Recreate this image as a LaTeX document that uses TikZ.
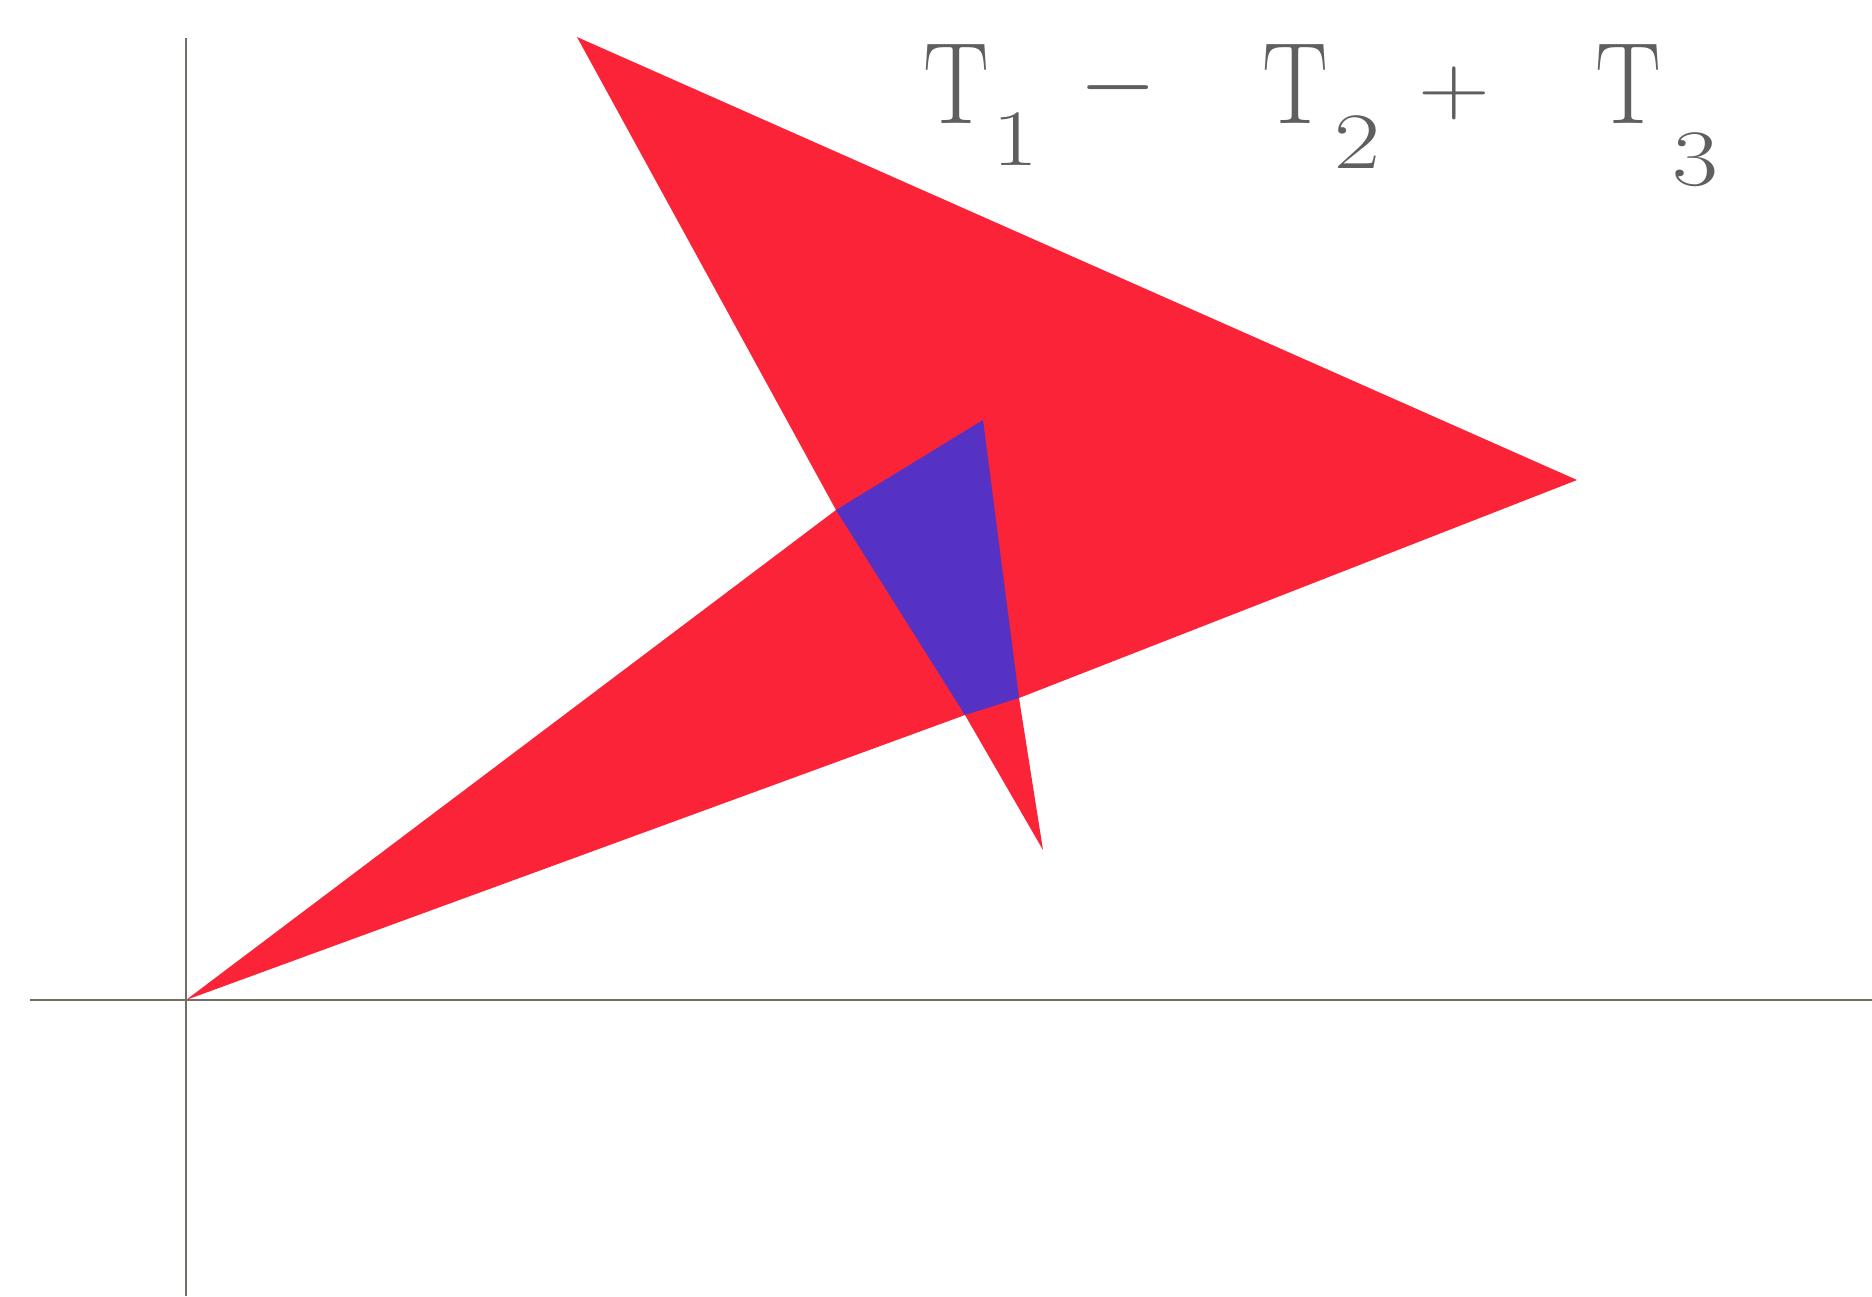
\documentclass[tikz,border=0pt]{standalone}
\usepackage{amsmath,amssymb}
\usepackage{graphicx}
\usepackage{xcolor}
\usetikzlibrary{calc}

\definecolor{trired}{RGB}{250,35,55}
\definecolor{triblue}{RGB}{85,50,195}
\definecolor{axisgray}{RGB}{115,110,100}
\definecolor{labelgray}{RGB}{95,95,95}

\newcommand{\slimT}{\scalebox{0.85}[1]{T}}
\newcommand{\wideD}[1]{\scalebox{1.25}[1]{#1}}

\begin{document}
\begin{tikzpicture}[x=0.25pt,y=-0.25pt,
		big/.style={anchor=base west,inner sep=0pt,text=labelgray,font=\fontsize{29}{29}\selectfont},
		sub/.style={anchor=base west,inner sep=0pt,text=labelgray,font=\fontsize{20}{20}\selectfont},
		op/.style={inner sep=0pt,text=labelgray,font=\fontsize{28}{28}\selectfont}]
		
		\useasboundingbox (0,0) rectangle (1872,1296);
		
		% Corners of the signed sum
		\coordinate (O) at (186,1000);
		\coordinate (A) at (577,37);
		\coordinate (B) at (1577,480);
		\coordinate (C) at (1043,850);
		\coordinate (D) at (983,420);
		\coordinate (P1) at (836,510);
		\coordinate (P2) at (965,715);
		\coordinate (P3) at (1019,698);
		
		% Multiplicity one
		\fill[trired] (A) -- (B) -- (P3) -- (C) -- (P2) -- (O) -- (P1) -- cycle;
		% Multiplicity two
		\fill[triblue] (P1) -- (D) -- (P3) -- (P2) -- cycle;
		
		% Axes
		\draw[axisgray,line width=0.5pt] (30,1000) -- (1872,1000);
		\draw[axisgray,line width=0.5pt] (186,38) -- (186,1296);
		
		\node[big] (t1) at (923,123) {\slimT};
		\node[sub] (n1) at (992,165) {\wideD{1}};
		\node[op] (mi) at (1118,88) {$-$};
		\node[big] (t2) at (1262,123) {\slimT};
		\node[sub] (n2) at (1334,168) {\wideD{2}};
		\node[op] (pl) at (1454,93) {\scalebox{1}[0.85]{$+$}};
		\node[big] (t3) at (1595,123) {\slimT};
		\node[sub] (n3) at (1672,185) {\wideD{3}};
		
	\end{tikzpicture}
\end{document}
